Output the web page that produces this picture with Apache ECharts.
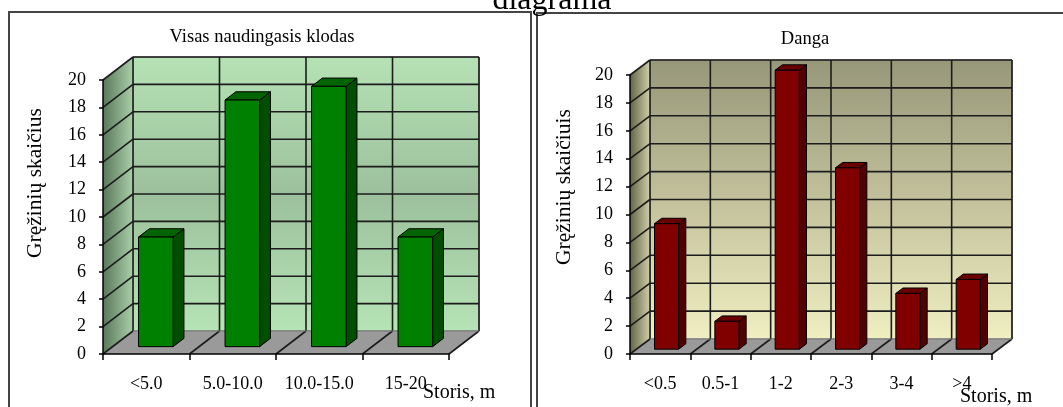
<!DOCTYPE html>
<html>
<head>
<meta charset="utf-8">
<script src="https://cdn.jsdelivr.net/npm/echarts@6/dist/echarts.min.js"></script>
<style>
  html, body { margin: 0; padding: 0; background: #fff; }
  #chart { width: 1063px; height: 407px; }
</style>
</head>
<body>
<div id="chart"></div>
<script>
// Thickness classes and bore-hole counts
const leftCategories = ['<5.0', '5.0-10.0', '10.0-15.0', '15-20'];
const leftValues = [8, 18, 19, 8];
const rightCategories = ['<0.5', '0.5-1', '1-2', '2-3', '3-4', '>4'];
const rightValues = [9, 2, 20, 13, 4, 5];
// Value axis range shared by both panels
const yMin = 0, yMax = 20, yStep = 2;
const yTickValues = [];
for (let v = yMin; v <= yMax; v += yStep) yTickValues.push(v);

const SERIF = '"Liberation Serif", "Times New Roman", serif';

// Draws the back wall, side wall, floor and grid of a pseudo-3D box
function boxRenderer(depth, look) {
  return function (params, api) {
    const cs = params.coordSys;
    const dx = depth[0], dy = depth[1];
    const x0 = cs.x, x1 = cs.x + cs.width, yt = cs.y, yb = cs.y + cs.height;
    const band = api.size([1, 0])[0];
    const n = look.count;
    const children = [];
    children.push({
      type: 'rect',
      shape: { x: x0 + dx, y: yt + dy, width: cs.width, height: cs.height },
      style: {
        fill: new echarts.graphic.LinearGradient(0, 0, 0, 1, look.wall),
        stroke: '#666', lineWidth: 1
      }
    });
    children.push({
      type: 'polygon',
      shape: { points: [[x0, yb], [x0, yt], [x0 + dx, yt + dy], [x0 + dx, yb + dy]] },
      style: { fill: new echarts.graphic.LinearGradient(0, 0, 1, 0, look.side) }
    });
    children.push({
      type: 'polygon',
      shape: { points: [[x0, yb], [x1, yb], [x1 + dx, yb + dy], [x0 + dx, yb + dy]] },
      style: { fill: look.floor }
    });
    const gl = { stroke: '#1c1c1c', lineWidth: 1.6 };
    yTickValues.forEach(function (v) {
      const y = api.coord([0, v])[1];
      if (v > yMin) {
        children.push({ type: 'line', shape: { x1: x0 + dx, y1: y + dy, x2: x1 + dx, y2: y + dy }, style: gl });
        children.push({ type: 'line', shape: { x1: x0, y1: y, x2: x0 + dx, y2: y + dy }, style: gl });
      }
    });
    for (let i = 0; i <= n; i++) {
      const xb = api.coord([0, 0])[0] - band / 2 + i * band;
      children.push({ type: 'line', shape: { x1: xb + dx, y1: yt + dy, x2: xb + dx, y2: yb + dy }, style: gl });
      children.push({ type: 'line', shape: { x1: xb, y1: yb, x2: xb + dx, y2: yb + dy }, style: gl });
    }
    children.push({ type: 'line', shape: { x1: x0 + dx, y1: yb + dy, x2: x1 + dx, y2: yb + dy }, style: { stroke: '#777', lineWidth: 1 } });
    return { type: 'group', children: children };
  };
}

// Draws one prism-shaped bar per data item
function barRenderer(depth, colors) {
  const f0 = 0.32, f1 = 0.68;
  return function (params, api) {
    const i = api.value(0), v = api.value(1);
    const band = api.size([1, 0])[0];
    const w = band * 0.4;
    const base = api.coord([i, 0]);
    const top = api.coord([i, v]);
    const ox = depth[0] * f0, oy = depth[1] * f0;
    const bx = depth[0] * (f1 - f0), by = depth[1] * (f1 - f0);
    const xl = base[0] - w / 2 + ox, xr = xl + w;
    const yB = base[1] + oy, yT = top[1] + oy;
    const edge = { stroke: '#000', lineWidth: 1 };
    return {
      type: 'group',
      children: [
        { type: 'polygon', shape: { points: [[xr, yT], [xr + bx, yT + by], [xr + bx, yB + by], [xr, yB]] },
          style: Object.assign({ fill: colors.side }, edge) },
        { type: 'polygon', shape: { points: [[xl, yT], [xr, yT], [xr + bx, yT + by], [xl + bx, yT + by]] },
          style: Object.assign({ fill: colors.top }, edge) },
        { type: 'rect', shape: { x: xl, y: yT, width: w, height: yB - yT },
          style: Object.assign({ fill: colors.front }, edge) }
      ]
    };
  };
}

const leftDepth = [30, -23];
const rightDepth = [20, -15];

const greenLook = {
  count: leftCategories.length,
  wall: [{ offset: 0, color: '#b5e2b5' }, { offset: 0.5, color: '#9cc09c' }, { offset: 1, color: '#b6e4b6' }],
  side: [{ offset: 0, color: '#5a785a' }, { offset: 1, color: '#a9cfa9' }],
  floor: '#9a9a9a'
};
const oliveLook = {
  count: rightCategories.length,
  wall: [{ offset: 0, color: '#97977a' }, { offset: 0.5, color: '#c2c19b' }, { offset: 1, color: '#f0efc2' }],
  side: [{ offset: 0, color: '#64644a' }, { offset: 1, color: '#cfcfa8' }],
  floor: '#9a9a9a'
};

function xAxisOf(gridIndex, cats) {
  return {
    gridIndex: gridIndex, type: 'category', data: cats, z: 10,
    axisLine: { lineStyle: { color: '#000', width: 1.5 } },
    axisTick: { show: true, length: 6, alignWithLabel: false, lineStyle: { color: '#000', width: 1.5 } },
    axisLabel: { color: '#000', fontFamily: SERIF, fontSize: 18, margin: 21, interval: 0 },
    splitLine: { show: false }
  };
}
function yAxisOf(gridIndex) {
  return {
    gridIndex: gridIndex, type: 'value', min: yMin, max: yMax, interval: yStep, z: 10,
    axisLine: { show: true, lineStyle: { color: '#000', width: 1.5 } },
    axisTick: { show: true, length: 4, lineStyle: { color: '#000', width: 1.5 } },
    axisLabel: { color: '#000', fontFamily: SERIF, fontSize: 18, margin: 17 },
    splitLine: { show: false }
  };
}

const chart = echarts.init(document.getElementById('chart'), null, { renderer: 'canvas' });
chart.setOption({
  animation: false,
  backgroundColor: '#fff',
  grid: [
    { left: 103, top: 80, width: 346, height: 274 },
    { left: 630, top: 75, width: 362, height: 279 }
  ],
  xAxis: [xAxisOf(0, leftCategories), xAxisOf(1, rightCategories)],
  yAxis: [yAxisOf(0), yAxisOf(1)],
  graphic: [
    { type: 'rect', shape: { x: 9, y: 12, width: 522, height: 420 }, style: { fill: 'none', stroke: '#444', lineWidth: 2 }, z: 20 },
    { type: 'rect', shape: { x: 537, y: 13, width: 540, height: 420 }, style: { fill: 'none', stroke: '#444', lineWidth: 2 }, z: 20 },
    { type: 'text', x: 552, y: 17, style: { text: 'diagrama', font: '32px ' + SERIF, fill: '#000', align: 'center', verticalAlign: 'bottom' }, z: 20 },
    { type: 'text', x: 262, y: 37, style: { text: 'Visas naudingasis klodas', font: '18.5px ' + SERIF, fill: '#000', align: 'center', verticalAlign: 'middle' }, z: 20 },
    { type: 'text', x: 805, y: 39, style: { text: 'Danga', font: '18.5px ' + SERIF, fill: '#000', align: 'center', verticalAlign: 'middle' }, z: 20 },
    { type: 'text', x: 35, y: 183, rotation: Math.PI / 2, style: { text: 'Gręžinių skaičius', font: '21.5px ' + SERIF, fill: '#000', align: 'center', verticalAlign: 'middle' }, z: 20 },
    { type: 'text', x: 564, y: 187, rotation: Math.PI / 2, style: { text: 'Gręžinių skaičiuis', font: '21.5px ' + SERIF, fill: '#000', align: 'center', verticalAlign: 'middle' }, z: 20 },
    { type: 'text', x: 423, y: 393, style: { text: 'Storis, m', font: '20px ' + SERIF, fill: '#000', align: 'left', verticalAlign: 'middle' }, z: 20 },
    { type: 'text', x: 960, y: 397, style: { text: 'Storis, m', font: '20px ' + SERIF, fill: '#000', align: 'left', verticalAlign: 'middle' }, z: 20 }
  ],
  series: [
    { type: 'custom', xAxisIndex: 0, yAxisIndex: 0, z: 1, silent: true, clip: false,
      renderItem: boxRenderer(leftDepth, greenLook), data: [[0, 0]] },
    { type: 'custom', xAxisIndex: 0, yAxisIndex: 0, z: 3, clip: false,
      renderItem: barRenderer(leftDepth, { front: '#008000', side: '#004f00', top: '#006400' }),
      data: leftValues.map(function (v, i) { return [i, v]; }) },
    { type: 'custom', xAxisIndex: 1, yAxisIndex: 1, z: 1, silent: true, clip: false,
      renderItem: boxRenderer(rightDepth, oliveLook), data: [[0, 0]] },
    { type: 'custom', xAxisIndex: 1, yAxisIndex: 1, z: 3, clip: false,
      renderItem: barRenderer(rightDepth, { front: '#800000', side: '#520000', top: '#680000' }),
      data: rightValues.map(function (v, i) { return [i, v]; }) }
  ]
});
</script>
</body>
</html>
